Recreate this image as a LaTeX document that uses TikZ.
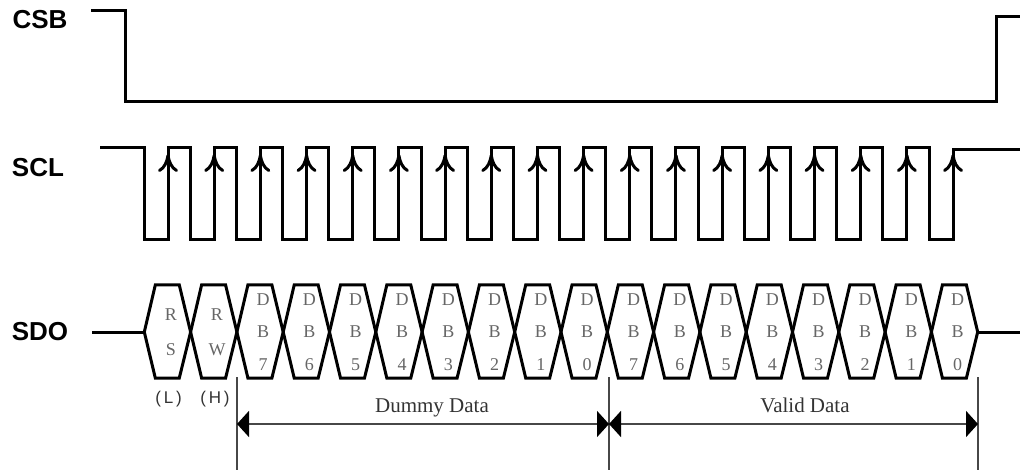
\documentclass[tikz,border=0pt]{standalone}
\usepackage{fontspec}
\setmainfont{Liberation Serif}
\setsansfont{Liberation Sans}
\usetikzlibrary{arrows.meta,positioning}

\begin{document}
\begin{tikzpicture}[x=1pt,y=-1pt]
 	\tikzstyle{wavepath}=[line width=3pt, line join=miter, draw=black]
 	\tikzstyle{sig}=[inner sep=0pt, font=\sffamily\bfseries\fontsize{26}{26}\selectfont]
 	\tikzstyle{bit}=[inner sep=0pt, text=black!60, font=\fontsize{18}{18}\selectfont]
 	\tikzstyle{lvl}=[inner sep=0pt, text=black!80, font=\sffamily\fontsize{17}{17}\selectfont]
 	\tikzstyle{rise}=[line width=3pt, -{To[length=18pt, width=20pt]}]
 	\tikzstyle{dimln}=[line width=1.6pt, draw=black!72]
 	\tikzstyle{spanarrow}=[dimln, {Triangle[length=12pt, width=26pt, fill=black, color=black]}-{Triangle[length=12pt, width=26pt, fill=black, color=black]}]
 	\tikzstyle{spantext}=[inner sep=0pt, anchor=base, text=black!80, font=\fontsize{21}{21}\selectfont]
 	\useasboundingbox (0,0) rectangle (1020,470);
 	\def\pscl{46.18}
 	\def\psdo{46.3}
 	\node[sig] (csb) at (40,20) {CSB};
 	\node[sig] (scl) at (38,168) {SCL};
 	\node[sig] (sdo) at (40,332) {SDO};
 	\draw[wavepath] (91,11) -| (125,102) -| (996,17) -- (1020,17);
 	\draw[wavepath] (100,148)
 		\foreach \k in {0,...,16} { -- ({144+\pscl*\k},148) -- ({144+\pscl*\k},240) -- ({168+\pscl*\k},240) -- ({168+\pscl*\k},148) }
 		-- ({144+\pscl*17},148) -- ({144+\pscl*17},240) -- ({168+\pscl*17},240) -- ({168+\pscl*17},150) -- (1020,150);
 	\foreach \k in {0,...,17}
 		\draw[rise] ({168+\pscl*\k},200) -- ({168+\pscl*\k},154);
 	\draw[wavepath] (92,332) -- (144.3,332);
 	\foreach \k in {0,...,17}
 		\draw[wavepath] ({144.3+\psdo*\k},332) -- ({155.3+\psdo*\k},285) -- ({179.3+\psdo*\k},285) -- ({190.6+\psdo*\k},332) -- ({179.3+\psdo*\k},378) -- ({155.3+\psdo*\k},378) -- cycle;
 	\draw[wavepath] ({144.3+\psdo*18},332) -- (1020,332);
 	\node[bit] (rs1) at (171,315) {R};
 	\node[bit] (rs2) at (171,350) {S};
 	\node[bit] (rw1) at (217,315) {R};
 	\node[bit] (rw2) at (217,350) {W};
 	\foreach \k in {2,...,17} {
 		\pgfmathtruncatemacro\b{mod(17-\k,8)}
 		\node[bit] (d\k) at ({170.5+\psdo*\k},300) {D};
 		\node[bit] (b\k) at ({170.5+\psdo*\k},332) {B};
 		\node[bit] (n\k) at ({170.5+\psdo*\k},365) {\b};
 	}
 	\node[lvl] (lo) at (168.5,399) {(\,L\,)};
 	\node[lvl] (hi) at (215,399) {(\,H\,)};
 	\coordinate (ta) at (237,377);
 	\coordinate (tb) at (609,377);
 	\coordinate (tc) at (978,377);
 	\coordinate (ba) at (237,470);
 	\coordinate (bb) at (609,470);
 	\coordinate (bc) at (978,470);
 	\coordinate (ma) at (237,424);
 	\coordinate (mb) at (609,424);
 	\coordinate (mc) at (978,424);
 	\path (ta) edge [dimln] (ba)
 	(tb) edge [dimln] (bb)
 	(tc) edge [dimln] (bc);
 	\draw[spanarrow] (ma) -- node[spantext, yshift=12pt, xshift=9pt] (dummy) {Dummy Data} (mb);
 	\draw[spanarrow] (mb) -- node[spantext, yshift=12pt, xshift=11.5pt] (valid) {Valid Data} (mc);
\end{tikzpicture}
\end{document}
